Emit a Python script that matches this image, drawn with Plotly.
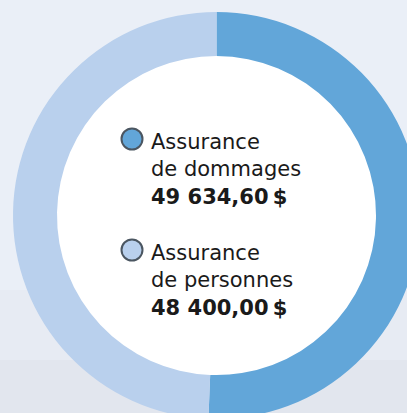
import plotly.graph_objects as go

# data
categories = ["Assurance de dommages", "Assurance de personnes"]
values = [49634.60, 48400.00]

colors = ["#62A6D9", "#B9D0ED"]

W, H = 430, 425           # figure is a bit larger than the window, so the ring gets cropped
cx, cy = 216.5, 215.5     # ring centre in px from top-left
r_out, r_in = 203.5, 159.5


def px(x):
    return x / W


def py(y):
    return (H - y) / H


def money(v):
    s = f"{v:,.2f}".replace(",", "\u00a0").replace(".", ",")
    return s + "\u202f$"


fig = go.Figure()

fig.add_trace(go.Pie(
    labels=categories,
    values=values,
    hole=r_in / r_out,
    sort=False,
    direction="clockwise",
    rotation=0,
    marker=dict(colors=colors, line=dict(width=0)),
    textinfo="none",
    hoverinfo="label+value",
    domain=dict(x=[px(cx - r_out), px(cx + r_out)], y=[py(cy + r_out), py(cy - r_out)]),
))

shapes = [
    # background gets a little greyer towards the bottom
    dict(type="rect", xref="paper", yref="paper", layer="below",
         x0=0, x1=1, y0=0, y1=py(290), fillcolor="#E7EBF3", line=dict(width=0)),
    dict(type="rect", xref="paper", yref="paper", layer="below",
         x0=0, x1=1, y0=0, y1=py(360), fillcolor="#E2E6EE", line=dict(width=0)),
    # white centre of the donut
    dict(type="circle", xref="paper", yref="paper", layer="below",
         x0=px(cx - r_in - 1), x1=px(cx + r_in + 1),
         y0=py(cy + r_in + 1), y1=py(cy - r_in - 1),
         fillcolor="white", line=dict(width=0)),
]

annotations = []
font = "DejaVu Sans"
fs = 21
dot_y = [139, 250]  # centre of the legend dot for each item
for i, (cat, val) in enumerate(zip(categories, values)):
    yc = dot_y[i]
    shapes.append(dict(type="circle", xref="paper", yref="paper",
                       x0=px(132 - 10.5), x1=px(132 + 10.5),
                       y0=py(yc + 10.5), y1=py(yc - 10.5),
                       fillcolor=colors[i], line=dict(color="#4B5661", width=2)))
    first, rest = cat.split(" ", 1)
    annotations.append(dict(
        x=px(149), y=py(yc + 30),
        xref="paper", yref="paper", xanchor="left", yanchor="middle", align="left",
        text=f"{first}<br>{rest}<br><b>{money(val)}</b>", showarrow=False,
        font=dict(family=font, size=fs, color="#1A1A1A"),
    ))

fig.update_layout(
    width=W, height=H,
    margin=dict(l=0, r=0, t=0, b=0),
    paper_bgcolor="#EAEFF7",
    plot_bgcolor="#EAEFF7",
    showlegend=False,
    shapes=shapes,
    annotations=annotations,
)

fig.write_html("out.html", config={"displayModeBar": False},
               post_script="document.body.style.margin='0';document.body.style.overflow='hidden';")
